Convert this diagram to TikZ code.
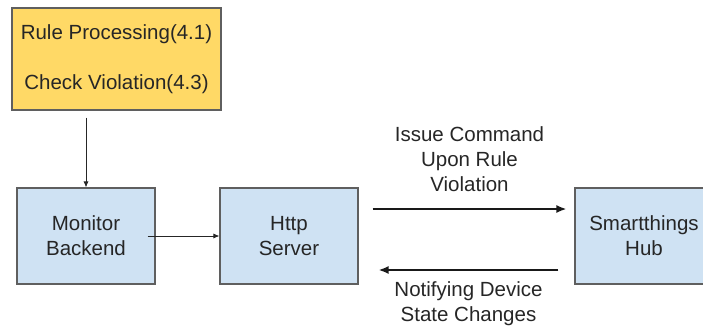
\documentclass[tikz,border=0pt]{standalone}
\usepackage{fontspec}
\setmainfont{Liberation Sans}
\usepackage{tikz}
\usetikzlibrary{positioning, arrows.meta,calc}

\definecolor{ruleyellow}{HTML}{FFD966}
\definecolor{boxblue}{HTML}{CFE2F3}
\definecolor{boxedge}{HTML}{5F5F5F}

\tikzset{
	blockbox/.style={rectangle, draw= boxedge, line width=1.1pt, align=center,
		font=\fontsize{20.5}{25}\selectfont, text=black!85},
	thinarrow/.style={-{Latex[length=6pt,width=5pt]}, line width=0.8pt, draw=black!85},
	thickarrow/.style={-{Latex[length=10pt,width=8pt]}, line width=1.8pt, draw=black!90},
	arrowlabel/.style={align=center, font=\fontsize{20.5}{25}\selectfont, text=black!85}
}

\begin{document}
\begin{tikzpicture}[x=1pt, y=-1pt]
		
		\useasboundingbox (0,0) rectangle (703,326);
		\clip (0,0) rectangle (703,326);
		
		% Rule engine
		\node[blockbox, fill= ruleyellow, minimum width = 209,
		minimum height = 102] (rules) at (116.5,59) {Rule Processing(4.1)\\[25pt]Check Violation(4.3)};
		
		% Lower row
		\node[blockbox, fill= boxblue, minimum width = 138,
		minimum height = 96] (monitor) at (86,236) {Monitor\\Backend};
		\node[blockbox, fill= boxblue, minimum width = 138,
		minimum height = 96] (http) at ($(monitor) + (203,0)$) {Http\\Server};
		\node[blockbox, fill= boxblue, minimum width = 138,
		minimum height = 96] (hub) at ($(monitor) + (558,0)$) {Smartthings\\Hub};
		
		% Connections
		\draw[thinarrow] ([yshift=-7pt]rules.south -| monitor.north) -- (monitor.north);
		\draw[thinarrow] ([xshift=-8pt]monitor.east) -- (http.west);
		
		\draw[thickarrow] ([xshift=14pt,yshift=27pt]http.east) -- ([xshift=-8pt,yshift=27pt]hub.west)
		node[arrowlabel, midway, above=13pt] (cmdlabel) {Issue Command\\Upon Rule\\Violation};
		\draw[thickarrow] ([xshift=-16pt,yshift=-34pt]hub.west) -- ([xshift=20pt,yshift=-34pt]http.east)
		node[arrowlabel, midway, below=7pt] (notifylabel) {Notifying Device\\State Changes};
	\end{tikzpicture}
\end{document}
